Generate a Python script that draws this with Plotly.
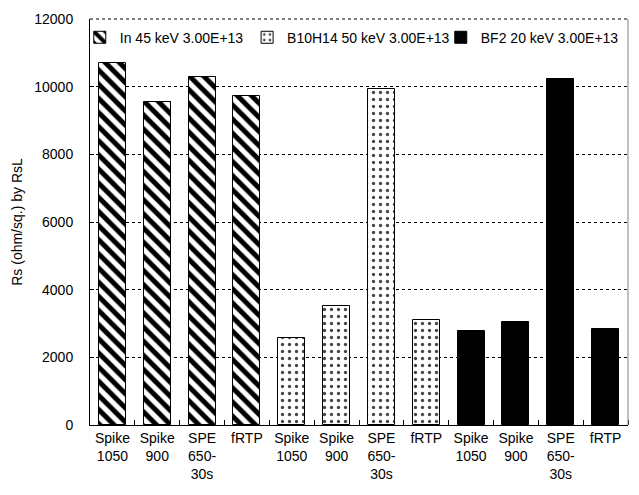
import plotly.graph_objects as go

# Sheet resistance by anneal condition for three implant species
anneals = ["Spike<br>1050", "Spike<br>900", "SPE<br>650-<br>30s", "fRTP"]
in_rs = [10690, 9540, 10300, 9730]
b10h14_rs = [2560, 3520, 9940, 3090]
bf2_rs = [2770, 3040, 10220, 2850]

series_names = ["In 45 keV 3.00E+13", "B10H14 50 keV 3.00E+13", "BF2 20 keV 3.00E+13"]

tick_labels = anneals * 3
n_groups = len(series_names)
n_per = len(anneals)
positions = list(range(n_groups * n_per))

FONT = "Liberation Sans, Arial, sans-serif"
FS = 14

fig = go.Figure()

fig.add_trace(go.Bar(
    name=series_names[0], legend="legend",
    x=positions[0:n_per], y=in_rs, width=0.6,
    marker=dict(color="white", line=dict(color="black", width=1),
                pattern=dict(shape="\\", fgcolor="black", bgcolor="white",
                             fgopacity=1, fillmode="replace",
                             size=10, solidity=0.5)),
))
fig.add_trace(go.Bar(
    name=series_names[1], legend="legend2",
    x=positions[n_per:2 * n_per], y=b10h14_rs, width=0.6,
    marker=dict(color="white", line=dict(color="black", width=1),
                pattern=dict(shape=".", fgcolor="#444444", bgcolor="white",
                             fgopacity=1, fillmode="replace",
                             size=7, solidity=0.17)),
))
fig.add_trace(go.Bar(
    name=series_names[2], legend="legend3",
    x=positions[2 * n_per:], y=bf2_rs, width=0.6,
    marker=dict(color="black", line=dict(color="black", width=1)),
))

legend_style = dict(orientation="h", y=0.954, xanchor="left", yanchor="middle",
                    bgcolor="rgba(0,0,0,0)", font=dict(size=FS), itemwidth=30)

fig.update_layout(
    width=639, height=495,
    margin=dict(l=90, r=11, t=14, b=70),
    paper_bgcolor="white", plot_bgcolor="white",
    font=dict(family=FONT, size=FS, color="black"),
    showlegend=True,
    legend=dict(x=-0.019, **legend_style),
    legend2=dict(x=0.292, **legend_style),
    legend3=dict(x=0.652, **legend_style),
    bargap=0,
    xaxis=dict(
        range=[-0.5, len(positions) - 0.5],
        tickmode="array", tickvals=positions, ticktext=tick_labels,
        ticks="", showgrid=False, zeroline=False,
        showline=True, linecolor="black", linewidth=1,
        tickfont=dict(size=FS),
        minor=dict(tickmode="array",
                   tickvals=[p + 0.5 for p in positions],
                   ticks="inside", ticklen=5, tickcolor="black", tickwidth=1),
    ),
    yaxis=dict(
        range=[0, 12000], tickmode="linear", tick0=0, dtick=2000, tickformat="d",
        ticks="inside", ticklen=4, tickcolor="black", ticklabelstandoff=13,
        showgrid=True, gridcolor="black", griddash="3px,3px", gridwidth=1,
        zeroline=False, showline=True, linecolor="black", linewidth=1,
        tickfont=dict(size=FS),
        title=dict(text="Rs (ohm/sq.) by RsL", font=dict(size=FS), standoff=8),
    ),
    shapes=[
        # right frame edge
        dict(type="line", xref="paper", yref="paper", x0=1, x1=1, y0=0, y1=1,
             line=dict(color="#808080", width=1)),
        # dotted top frame edge
        dict(type="line", xref="paper", yref="paper", x0=0, x1=1, y0=1, y1=1,
             line=dict(color="black", width=1, dash="3px,3px")),
    ],
)

fig.write_html("out.html")
